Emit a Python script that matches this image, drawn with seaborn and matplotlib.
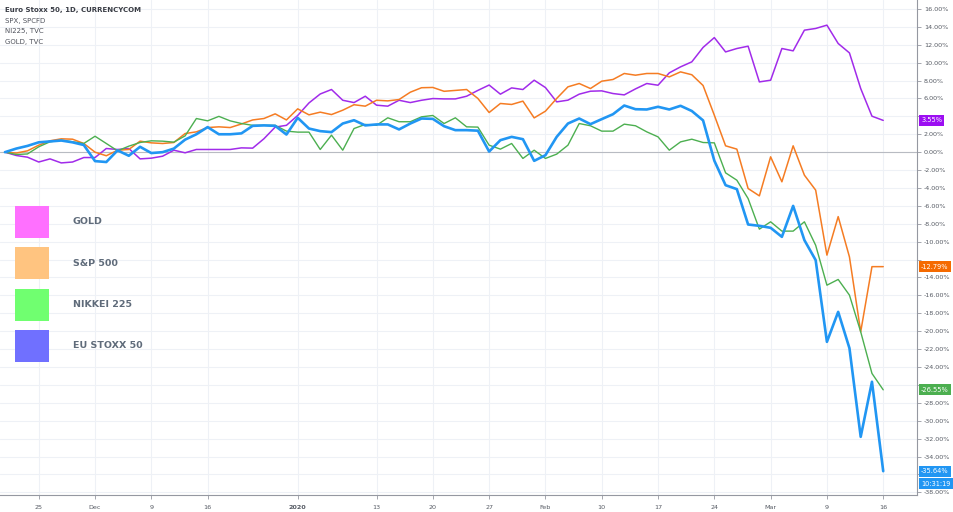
import numpy as np
import pandas as pd
import matplotlib
matplotlib.use('Agg')
import matplotlib.pyplot as plt
import seaborn as sns
from matplotlib.patches import Patch

# % change since the first bar, one value per trading day
gold = [0, -0.37, -0.56, -1.1, -0.75, -1.2, -1.1, -0.6, -0.6, 0.41,
        0.3, 0.41, -0.75, -0.67, -0.45, 0.22, -0.07, 0.3, 0.3, 0.3,
        0.3, 0.48, 0.45, 1.5, 2.8, 3.0, 4.1, 5.5, 6.5, 7.0,
        5.8, 5.54, 6.25, 5.25, 5.14, 5.8, 5.54, 5.8, 5.99, 5.95,
        5.95, 6.25, 6.9, 7.5, 6.48, 7.18, 7.0, 8.04, 7.22, 5.62,
        5.81, 6.48, 6.81, 6.85, 6.55, 6.4, 7.07, 7.67, 7.48, 8.86,
        9.53, 10.09, 11.7, 12.8, 11.2, 11.58, 11.84, 7.85, 8.04, 11.58,
        11.32, 13.63, 13.82, 14.19, 12.14, 11.09, 7.11, 4.02, 3.55]
spx = [0, -0.1, 0.15, 0.78, 1.27, 1.49, 1.45, 0.97, 0.0, -0.4,
       0.22, 0.3, 1.23, 1.04, 0.97, 1.08, 2.08, 2.27, 2.75, 2.83,
       2.75, 3.15, 3.6, 3.76, 4.28, 3.6, 4.84, 4.17, 4.47, 4.2,
       4.69, 5.3, 5.14, 5.8, 5.73, 5.88, 6.7, 7.2, 7.23, 6.8,
       6.9, 7.0, 6.0, 4.43, 5.44, 5.33, 5.7, 3.83, 4.58, 6.0,
       7.3, 7.67, 7.11, 7.93, 8.12, 8.79, 8.6, 8.79, 8.79, 8.41,
       8.97, 8.65, 7.45, 4.13, 0.71, 0.34, -4.06, -4.88, -0.52, -3.31,
       0.71, -2.57, -4.24, -11.5, -7.2, -11.7, -20.07, -12.79, -12.79]
nikkei = [0, -0.26, -0.2, 0.6, 1.16, 1.34, 1.16, 0.97, 1.78, 0.97,
          0.15, 0.67, 1.08, 1.27, 1.23, 1.12, 1.82, 3.76, 3.5, 4.0,
          3.5, 3.2, 3.0, 3.0, 3.0, 2.35, 2.24, 2.24, 0.3, 1.9,
          0.22, 2.64, 3.1, 3.0, 3.84, 3.4, 3.4, 3.95, 4.1, 3.2,
          3.84, 2.83, 2.8, 0.78, 0.34, 0.97, -0.7, 0.22, -0.7, -0.22,
          0.78, 3.2, 2.95, 2.35, 2.35, 3.13, 2.95, 2.27, 1.71, 0.22,
          1.15, 1.45, 1.08, 1.04, -2.31, -3.13, -5.18, -8.6, -7.78, -8.82,
          -8.82, -7.78, -10.4, -14.86, -14.22, -15.97, -20.07, -24.72, -26.55]
stoxx = [0, 0.4, 0.7, 1.1, 1.2, 1.3, 1.1, 0.8, -1.0, -1.1,
         0.2, -0.4, 0.6, -0.1, 0.0, 0.4, 1.4, 2.0, 2.8, 2.0,
         2.0, 2.1, 2.94, 2.99, 2.94, 1.97, 3.84, 2.64, 2.35, 2.24,
         3.2, 3.57, 2.99, 3.1, 3.1, 2.54, 3.2, 3.76, 3.72, 2.9,
         2.46, 2.46, 2.4, 0.07, 1.34, 1.71, 1.45, -0.97, -0.34, 1.71,
         3.2, 3.76, 3.13, 3.69, 4.24, 5.21, 4.8, 4.77, 5.07, 4.77,
         5.18, 4.6, 3.55, -0.95, -3.69, -4.13, -8.08, -8.23, -8.45, -9.46,
         -6.0, -9.83, -12.06, -21.19, -17.84, -21.9, -31.8, -25.65, -35.64]

series_names = ['GOLD', 'S&P 500', 'NIKKEI 225', 'EU STOXX 50']
line_colors = ['#a12bea', '#f57c23', '#4caf50', '#2196f3']
legend_colors = ['#ff70ff', '#ffc480', '#70ff70', '#7070ff']
line_widths = [1.1, 1.1, 1.0, 1.9]

tick_pos = [3, 8, 13, 18, 26, 33, 38, 43, 48, 53, 58, 63, 68, 73, 78]
tick_labels = ['25', 'Dec', '9', '16', '2020', '13', '20', '27', 'Feb',
               '10', '17', '24', 'Mar', '9', '16']
y_ticks = list(range(-38, 17, 2))

header = ['Euro Stoxx 50, 1D, CURRENCYCOM', 'SPX, SPCFD', 'NI225, TVC', 'GOLD, TVC']

df = pd.DataFrame({'day': np.arange(len(stoxx)),
                   'GOLD': gold, 'S&P 500': spx,
                   'NIKKEI 225': nikkei, 'EU STOXX 50': stoxx})
long_df = df.melt(id_vars='day', var_name='series', value_name='pct')

sns.set_style('white')
plt.rcParams['font.family'] = ['DejaVu Sans']

fig = plt.figure(figsize=(9.54, 5.12), dpi=100)
ax = fig.add_axes([0, 1 - 495 / 512, 917 / 954, 495 / 512])

grid_c = '#eef1f6'
for t in tick_pos:
    ax.axvline(t, color=grid_c, lw=0.8, zorder=0)
for t in y_ticks:
    ax.axhline(t, color=grid_c, lw=0.8, zorder=0)
ax.axhline(0, color='#b8bbc2', lw=0.8, zorder=1)

for name, color, lw in zip(series_names, line_colors, line_widths):
    sub = long_df[long_df['series'] == name]
    sns.lineplot(data=sub, x='day', y='pct', color=color, linewidth=lw,
                 ax=ax, zorder=3)

ax.set_xlim(-0.44, 81.0)
ax.set_ylim(-38.3, 17.0)
ax.set_xlabel('')
ax.set_ylabel('')

last_vals = [gold[-1], spx[-1], nikkei[-1], stoxx[-1]]

# price-scale labels hidden where a last-value badge sits on top of them
def scale_label(v):
    if any(abs(v - lv) < 1.0 for lv in last_vals):
        return ''
    return f'{v:.2f}%'

ax.yaxis.tick_right()
ax.set_yticks(y_ticks)
ax.set_yticklabels([scale_label(v) for v in y_ticks])
ax.set_xticks(tick_pos)
ax.set_xticklabels(tick_labels)
for lab in ax.get_xticklabels():
    if lab.get_text() == '2020':
        lab.set_fontweight('bold')
ax.tick_params(axis='y', which='both', right=True, left=False, length=3,
               width=0.6, color='#9598a1', labelsize=4.6, labelcolor='#555a63', pad=2)
ax.tick_params(axis='x', which='both', bottom=True, length=3, width=0.6,
               color='#9598a1', labelsize=4.6, labelcolor='#555a63', pad=4)
for s in ['left', 'top']:
    ax.spines[s].set_visible(False)
for s in ['right', 'bottom']:
    ax.spines[s].set_color('#9598a1')
    ax.spines[s].set_linewidth(0.8)

# last-value badges on the price scale
badge_colors = ['#9c0ef2', '#f56a00', '#4caf50', '#2196f3']
for v, c in zip(last_vals, badge_colors):
    ax.annotate(f'{v:.2f}%', xy=(1.0, v), xycoords=('axes fraction', 'data'),
                xytext=(3, 0), textcoords='offset points', ha='left', va='center',
                fontsize=4.8, color='white', annotation_clip=False,
                bbox=dict(boxstyle='square,pad=0.35', fc=c, ec='none'))
ax.annotate('10:31:19', xy=(1.0, stoxx[-1]), xycoords=('axes fraction', 'data'),
            xytext=(3, -9), textcoords='offset points', ha='left', va='center',
            fontsize=4.8, color='white', annotation_clip=False,
            bbox=dict(boxstyle='square,pad=0.35', fc='#2196f3', ec='none'))

# header lines, top left
for k, line in enumerate(header):
    fig.text(5 / 954, 1 - (10 + k * 10.7) / 512, line, fontsize=5.0,
             color='#3a3d45' if k == 0 else '#50535c',
             fontweight='bold' if k == 0 else 'normal', va='center', ha='left')

handles = [Patch(facecolor=c, edgecolor='none') for c in legend_colors]
fig.legend(handles, series_names, loc='upper left',
           bbox_to_anchor=(15 / 954, 1 - 206 / 512), bbox_transform=fig.transFigure,
           frameon=False, borderpad=0, borderaxespad=0,
           handlelength=3.6, handleheight=4.84, handletextpad=2.5,
           labelspacing=0.98, prop={'size': 6.8, 'weight': 'bold'},
           labelcolor='#5f6b7a')

fig.savefig('out.png', dpi=100)
